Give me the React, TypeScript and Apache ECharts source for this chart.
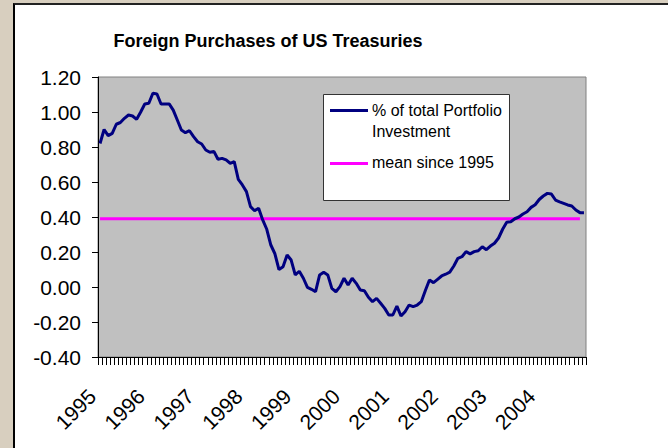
import React, { useEffect, useRef } from "react";
import * as echarts from "echarts";

const chartTitle = "Foreign Purchases of US Treasuries";
const years = ["1995", "1996", "1997", "1998", "1999", "2000", "2001", "2002", "2003", "2004"];
const monthNames = ["Jan", "Feb", "Mar", "Apr", "May", "Jun", "Jul", "Aug", "Sep", "Oct", "Nov", "Dec"];
const yTicks = { min: -0.4, max: 1.2, interval: 0.2 };
const seriesNames = ["% of total Portfolio\nInvestment", "mean since 1995"];

// % of total Portfolio Investment, monthly Jan 1995 - Dec 2004
const portfolioShare = [
  0.82, 0.9, 0.865, 0.878, 0.93, 0.94, 0.964, 0.983, 0.977, 0.958,
  1.0, 1.046, 1.05, 1.107, 1.103, 1.046, 1.046, 1.046, 1.011, 0.954,
  0.897, 0.882, 0.893, 0.859, 0.83, 0.817, 0.783, 0.77, 0.775, 0.73,
  0.735, 0.726, 0.707, 0.716, 0.615, 0.583, 0.545, 0.459, 0.436, 0.45,
  0.383, 0.33, 0.24, 0.19, 0.1, 0.116, 0.183, 0.154, 0.069, 0.09,
  0.05, -0.002, -0.013, -0.027, 0.069, 0.084, 0.069, -0.008, -0.027, 0.002,
  0.05, 0.011, 0.05, 0.021, -0.017, -0.021, -0.059, -0.084, -0.065, -0.093,
  -0.122, -0.16, -0.16, -0.109, -0.166, -0.141, -0.103, -0.112, -0.103, -0.084,
  -0.02, 0.04, 0.025, 0.044, 0.063, 0.073, 0.085, 0.12, 0.164, 0.173,
  0.202, 0.189, 0.202, 0.207, 0.23, 0.213, 0.234, 0.25, 0.28, 0.33,
  0.37, 0.373, 0.39, 0.4, 0.417, 0.43, 0.455, 0.47, 0.5, 0.52,
  0.535, 0.531, 0.497, 0.487, 0.478, 0.469, 0.463, 0.44, 0.425, 0.425,
];

// mean since 1995 (horizontal reference), drawn through Nov 2004
const meanValue = 0.39;
const meanPoints = 119;

const FONT = "'Liberation Sans', Arial, sans-serif";

export default function App() {
  const ref = useRef<HTMLDivElement>(null);

  useEffect(() => {
    if (!ref.current) return;
    const chart = echarts.init(ref.current, undefined, { renderer: "svg" });
    const categories = years.flatMap((y) => monthNames.map((m) => `${m} ${y}`));
    const meanData = categories.map((_, i) => (i < meanPoints ? meanValue : null));

    chart.setOption({
      animation: false,
      backgroundColor: "transparent",
      textStyle: { fontFamily: FONT },
      grid: {
        left: 98,
        top: 77,
        right: 82,
        bottom: 91,
        outerBoundsMode: "none",
        containLabel: false,
        show: true,
        backgroundColor: "#C0C0C0",
        borderColor: "#808080",
        borderWidth: 1,
      },
      xAxis: {
        type: "category",
        data: categories,
        boundaryGap: true,
        axisLine: { onZero: false, lineStyle: { color: "#000", width: 1 } },
        axisTick: { show: true, interval: 0, length: 8, lineStyle: { color: "#000" } },
        axisLabel: {
          interval: 11,
          rotate: 45,
          margin: 28,
          padding: [0, 11, 0, 0],
          fontSize: 21,
          color: "#000",
          fontFamily: FONT,
          formatter: (v: string) => v.split(" ")[1],
        },
        splitLine: { show: false },
      },
      yAxis: {
        type: "value",
        min: yTicks.min,
        max: yTicks.max,
        interval: yTicks.interval,
        axisLine: { show: true, lineStyle: { color: "#000", width: 1 } },
        axisTick: { show: true, length: 6, lineStyle: { color: "#000" } },
        axisLabel: {
          fontSize: 21,
          color: "#000",
          margin: 17,
          fontFamily: FONT,
          formatter: (v: number) => v.toFixed(2),
        },
        splitLine: { show: false },
      },
      series: [
        {
          name: seriesNames[0],
          type: "line",
          data: portfolioShare,
          showSymbol: false,
          symbol: "none",
          lineStyle: { color: "#000080", width: 3 },
          z: 3,
        },
        {
          name: seriesNames[1],
          type: "line",
          data: meanData,
          showSymbol: false,
          symbol: "none",
          lineStyle: { color: "#FF00FF", width: 3 },
          z: 2,
        },
      ],
      graphic: [
        {
          type: "text",
          x: 268,
          y: 41,
          z: 100,
          style: {
            text: chartTitle,
            fontFamily: FONT,
            fontSize: 18,
            fontWeight: "bold",
            fill: "#000",
            textAlign: "center",
            textVerticalAlign: "middle",
          },
        },
        {
          type: "group",
          z: 100,
          children: [
            {
              type: "rect",
              shape: { x: 323.5, y: 94.5, width: 186, height: 106 },
              style: { fill: "#fff", stroke: "#333", lineWidth: 1 },
            },
            {
              type: "line",
              shape: { x1: 330, y1: 110.5, x2: 368, y2: 110.5 },
              style: { stroke: "#000080", lineWidth: 3 },
            },
            {
              type: "text",
              x: 372,
              y: 110,
              style: {
                text: "% of total Portfolio",
                fontFamily: FONT,
                fontSize: 16,
                fill: "#000",
                textVerticalAlign: "middle",
              },
            },
            {
              type: "text",
              x: 372,
              y: 131.5,
              style: {
                text: "Investment",
                fontFamily: FONT,
                fontSize: 16,
                fill: "#000",
                textVerticalAlign: "middle",
              },
            },
            {
              type: "line",
              shape: { x1: 330, y1: 163.5, x2: 368, y2: 163.5 },
              style: { stroke: "#FF00FF", lineWidth: 3 },
            },
            {
              type: "text",
              x: 372,
              y: 162.5,
              style: {
                text: seriesNames[1],
                fontFamily: FONT,
                fontSize: 16,
                fill: "#000",
                textVerticalAlign: "middle",
              },
            },
          ],
        },
      ],
    });

    return () => chart.dispose();
  }, []);

  return (
    <div
      style={{
        position: "fixed",
        left: 0,
        top: 0,
        width: 668,
        height: 448,
        background: "#d8cfbf",
        overflow: "hidden",
      }}
    >
      <div
        style={{
          position: "absolute",
          left: 13,
          top: 3,
          width: 668,
          height: 460,
          background: "#fff",
          borderLeft: "2px solid #000",
          borderTop: "2px solid #222",
          boxSizing: "border-box",
        }}
      />
      <div ref={ref} style={{ position: "absolute", left: 0, top: 0, width: 668, height: 448 }} />
    </div>
  );
}
